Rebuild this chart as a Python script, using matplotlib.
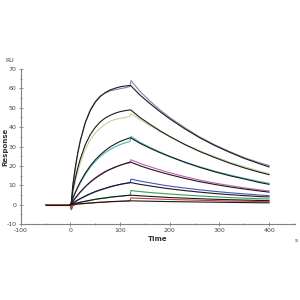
import numpy as np
import matplotlib
matplotlib.use("Agg")
import matplotlib.pyplot as plt
from matplotlib.ticker import MultipleLocator

plt.rcParams["axes.unicode_minus"] = False

# time points (s)
t_assoc = [0, 2, 5, 10, 15, 20, 30, 40, 50, 60, 70, 80, 90, 100, 110, 120]
t_dissoc = [122, 140, 160, 180, 200, 230, 260, 290, 320, 350, 380, 400]
t_base = [-50]

# fitted curves (black), association + dissociation
fit_1 = [0, 1.5, 10.5, 19.5, 27.0, 33.0, 42.3, 48.5, 52.8, 55.8, 57.8, 59.2, 60.1, 60.8, 61.2, 61.5,
         61.3, 56.6, 52.2, 48.1, 44.3, 39.2, 34.6, 30.6, 27.1, 23.9, 21.2, 19.5]
fit_2 = [0, 1.0, 7.4, 13.7, 19.1, 23.6, 30.9, 36.1, 39.9, 42.7, 44.7, 46.1, 47.2, 48.0, 48.5, 48.9,
         48.8, 45.0, 41.5, 38.2, 35.2, 31.1, 27.5, 24.4, 21.5, 19.0, 16.8, 15.5]
fit_3 = [0, 0.6, 3.4, 6.4, 9.2, 11.8, 16.3, 20.0, 23.1, 25.7, 27.9, 29.8, 31.3, 32.6, 33.6, 34.5,
         34.4, 31.7, 29.2, 26.9, 24.8, 21.9, 19.3, 17.0, 15.0, 13.3, 11.5, 10.5]
fit_4 = [0, 0.3, 1.8, 3.5, 5.1, 6.6, 9.3, 11.6, 13.6, 15.3, 16.9, 18.2, 19.3, 20.3, 21.2, 22.0,
         21.9, 20.1, 18.4, 16.9, 15.5, 13.6, 11.9, 10.5, 9.2, 8.1, 7.1, 6.5]
fit_5 = [0, 0.1, 0.9, 1.7, 2.5, 3.2, 4.5, 5.7, 6.8, 7.7, 8.5, 9.3, 9.9, 10.5, 11.0, 11.4,
         11.4, 10.5, 9.7, 8.9, 8.2, 7.3, 6.5, 5.8, 5.2, 4.7, 4.2, 4.0]
fit_6 = [0, 0.0, 0.3, 0.7, 1.0, 1.3, 1.8, 2.3, 2.8, 3.2, 3.5, 3.9, 4.2, 4.4, 4.7, 4.9,
         4.9, 4.6, 4.3, 4.0, 3.7, 3.4, 3.1, 2.8, 2.6, 2.4, 2.2, 2.1]
fit_7 = [0, 0.0, 0.1, 0.3, 0.4, 0.5, 0.7, 0.9, 1.1, 1.3, 1.4, 1.6, 1.7, 1.8, 1.9, 2.0,
         2.0, 1.9, 1.8, 1.7, 1.6, 1.5, 1.4, 1.3, 1.2, 1.1, 1.0, 1.0]

# measured curves (coloured), baseline + association + dissociation
dat_1 = [0, 0, -2.0, 9.0, 18.5, 26.5, 33.0, 42.5, 49.0, 53.2, 56.0, 57.6, 58.7, 59.3, 59.8, 60.3, 61.0,
         64.0, 58.5, 53.5, 49.0, 45.0, 39.8, 35.0, 31.0, 27.5, 24.3, 21.7, 20.2]
dat_2 = [0, 0, -2.5, 6.0, 12.0, 17.0, 21.5, 28.5, 33.5, 37.0, 39.5, 41.5, 43.0, 44.0, 44.5, 45.0, 45.5,
         47.0, 44.0, 40.8, 37.8, 35.0, 31.2, 27.8, 24.8, 22.0, 19.6, 17.4, 16.0]
dat_3 = [0, 0, -2.5, 3.0, 6.0, 8.7, 11.2, 15.6, 19.3, 22.3, 24.8, 26.8, 28.5, 29.9, 31.0, 31.9, 32.6,
         35.2, 32.2, 29.6, 27.2, 25.0, 22.1, 19.6, 17.4, 15.4, 13.6, 12.0, 11.0]
dat_4 = [0, 0, -2.5, 1.5, 3.2, 4.8, 6.4, 9.2, 11.8, 13.9, 15.7, 17.2, 18.4, 19.5, 20.4, 21.1, 21.6,
         23.2, 21.3, 19.6, 18.0, 16.5, 14.5, 12.7, 11.2, 9.9, 8.7, 7.7, 7.1]
dat_5 = [0, 0, -2.5, 0.5, 1.4, 2.3, 3.0, 4.3, 5.5, 6.6, 7.5, 8.3, 9.1, 9.8, 10.4, 10.9, 11.3,
         13.2, 12.2, 11.3, 10.4, 9.6, 8.6, 7.7, 6.9, 6.2, 5.6, 5.0, 4.7]
dat_6 = [0, 0, -2.5, -0.2, 0.5, 0.9, 1.2, 1.7, 2.2, 2.7, 3.1, 3.4, 3.8, 4.1, 4.3, 4.6, 4.8,
         7.3, 6.8, 6.3, 5.9, 5.5, 5.0, 4.5, 4.1, 3.7, 3.4, 3.1, 2.9]
dat_7 = [0, 0, -2.0, -0.5, 0.0, 0.3, 0.4, 0.6, 0.8, 1.0, 1.2, 1.3, 1.5, 1.6, 1.7, 1.8, 1.9,
         3.5, 3.3, 3.1, 2.9, 2.7, 2.5, 2.3, 2.1, 1.9, 1.8, 1.6, 1.5]

fits = [fit_1, fit_2, fit_3, fit_4, fit_5, fit_6, fit_7]
data = [dat_1, dat_2, dat_3, dat_4, dat_5, dat_6, dat_7]
colors = ["#8c7fa6", "#cfcf98", "#48b4b8", "#c25cb6", "#4f4fc4", "#3f9a58", "#c83a3a"]

t_fit = t_assoc + t_dissoc
t_dat = t_base + t_assoc + t_dissoc

fig = plt.figure(figsize=(3, 3), dpi=100)
ax = fig.add_axes([0.069, 0.253, 0.914, 0.517])

for d, c in zip(data, colors):
    ax.plot(t_dat, d, color=c, lw=0.8)
for f in fits:
    ax.plot(t_fit, f, color="#1a1a1a", lw=0.8)
ax.plot([-50, 0], [0, 0], color="#1a1a1a", lw=0.8)

ax.set_xlim(-100, 452)
ax.set_ylim(-10, 70)
ax.xaxis.set_major_locator(MultipleLocator(100))
ax.xaxis.set_minor_locator(MultipleLocator(50))
ax.yaxis.set_major_locator(MultipleLocator(10))
ax.yaxis.set_minor_locator(MultipleLocator(5))
for s in ["top", "right"]:
    ax.spines[s].set_visible(False)
for s in ["left", "bottom"]:
    ax.spines[s].set_color("#808080")
    ax.spines[s].set_linewidth(0.8)
ax.tick_params(which="both", direction="inout", color="#808080", width=0.6,
               labelsize=4.5, labelcolor="#444444", pad=1.5)
ax.tick_params(which="major", length=3)
ax.tick_params(which="minor", length=1.5)

ax.set_xlabel("Time", fontsize=5, fontweight="bold", color="#333333", labelpad=2)
ax.set_ylabel("Response", fontsize=5, fontweight="bold", color="#333333")
ax.yaxis.set_label_coords(-0.045, 0.5)
fig.text(0.033, 0.80, "RU", fontsize=4.5, color="#444444", ha="center", va="center")
fig.text(0.987, 0.20, "s", fontsize=4.5, color="#444444", ha="center", va="center")

fig.savefig("out.png", dpi=100)
